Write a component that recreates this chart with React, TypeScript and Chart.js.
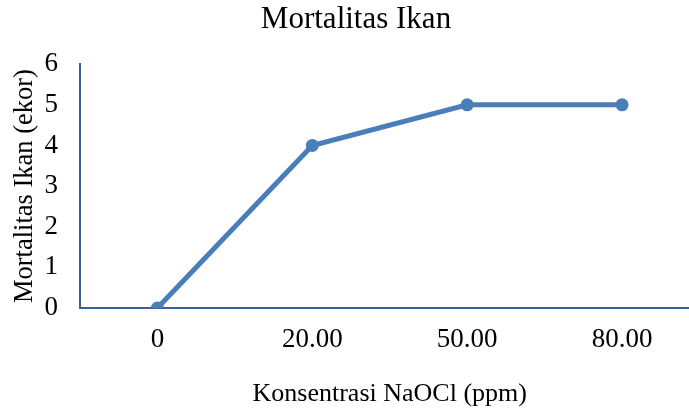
import React, { useEffect, useRef } from "react";
import { Chart, registerables } from "chart.js";

Chart.register(...registerables);

const categories = ["0", "20.00", "50.00", "80.00"];
const mortality = [0, 4, 5, 5];
const chartTitle = "Mortalitas Ikan";
const xTitle = "Konsentrasi NaOCl (ppm)";
const yTitle = "Mortalitas Ikan (ekor)";

const FONT = '"Liberation Serif", "Times New Roman", serif';
const LINE = "#4A7EBB";
const AXIS = "#3A5F9A";

export default function App() {
  const ref = useRef<HTMLCanvasElement | null>(null);
  useEffect(() => {
    if (!ref.current) return;
    const chart = new Chart(ref.current, {
      type: "line",
      data: {
        labels: categories,
        datasets: [
          {
            data: mortality,
            borderColor: LINE,
            backgroundColor: LINE,
            borderWidth: 5,
            pointRadius: 6.5,
            pointBackgroundColor: LINE,
            pointBorderColor: LINE,
            pointBorderWidth: 0,
            tension: 0,
          },
        ],
      },
      options: {
        responsive: false,
        animation: false,
        devicePixelRatio: 1,
        layout: { padding: { left: 6, right: 0, top: 0, bottom: 0 } },
        plugins: {
          legend: { display: false },
          tooltip: { enabled: false },
          title: {
            display: true,
            text: chartTitle,
            color: "#000",
            font: { family: FONT, size: 31, weight: "normal" },
            padding: { top: 1, bottom: 26 },
          },
        },
        scales: {
          x: {
            offset: true,
            grid: { display: false, drawTicks: false },
            border: { display: true, color: AXIS, width: 2 },
            ticks: {
              color: "#000",
              padding: 16,
              font: { family: FONT, size: 27 },
            },
            title: {
              display: true,
              text: xTitle,
              color: "#000",
              font: { family: FONT, size: 26 },
              padding: { top: 4, bottom: 3 },
            },
            afterFit: (scale: any) => {
              scale.height = 105;
            },
          },
          y: {
            min: 0,
            max: 6,
            grid: { display: false, drawTicks: false },
            border: { display: true, color: AXIS, width: 2 },
            ticks: {
              stepSize: 1,
              color: "#000",
              padding: 22,
              font: { family: FONT, size: 27 },
            },
            title: {
              display: true,
              text: yTitle,
              color: "#000",
              font: { family: FONT, size: 26.5 },
              padding: { top: 3, bottom: 4 },
            },
            afterFit: (scale: any) => {
              scale.width = 74;
            },
          },
        },
      },
    });
    return () => chart.destroy();
  }, []);
  return (
    <div
      style={{
        position: "absolute",
        left: 0,
        top: 0,
        width: 689,
        height: 413,
        overflow: "hidden",
        background: "#fff",
      }}
    >
      <canvas ref={ref} width={706} height={413} style={{ width: 706, height: 413, display: "block" }} />
    </div>
  );
}
